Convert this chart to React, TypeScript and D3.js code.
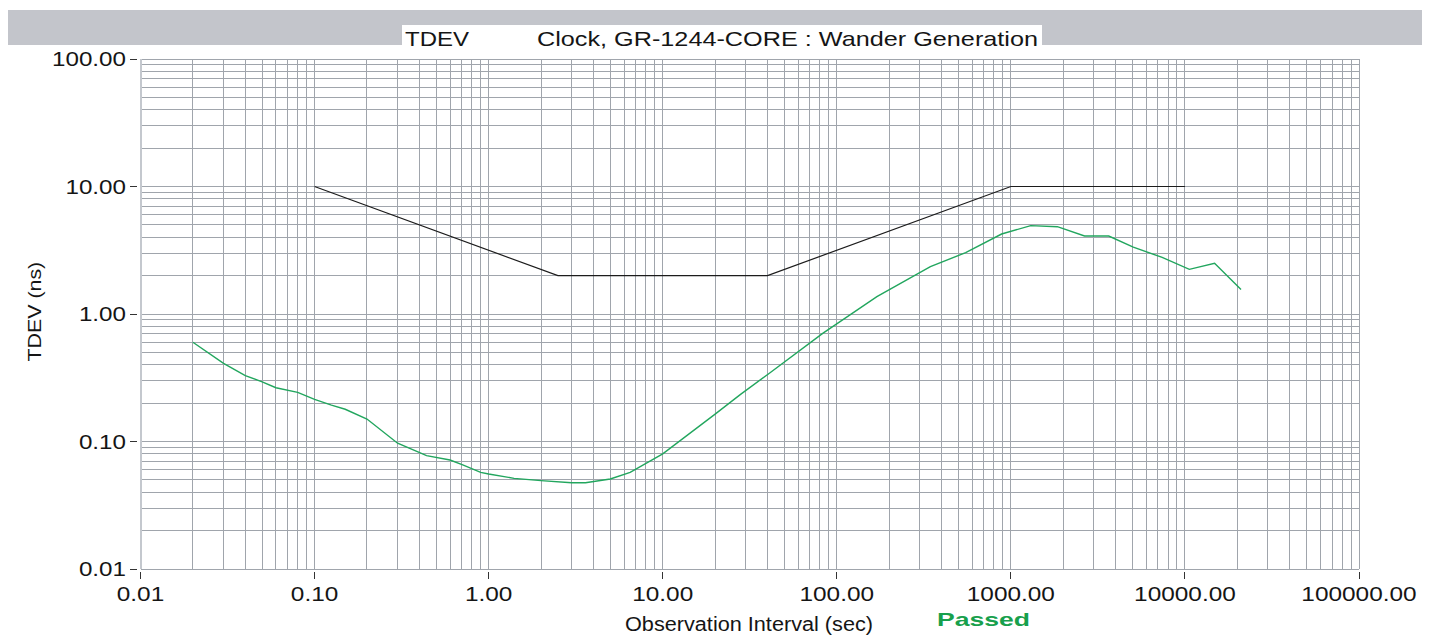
import React from "react";
import * as d3 from "d3";

// ---- data ----
const xTickValues = [0.01, 0.1, 1, 10, 100, 1000, 10000, 100000];
const xTickLabels = ["0.01", "0.10", "1.00", "10.00", "100.00", "1000.00", "10000.00", "100000.00"];
const yTickValues = [100, 10, 1, 0.1, 0.01];
const yTickLabels = ["100.00", "10.00", "1.00", "0.10", "0.01"];

const maskTau = [0.1, 2.5, 40, 1000, 10000];
const maskTdev = [10, 2, 2, 10, 10];

const measTau = [0.02, 0.03, 0.04, 0.05, 0.06, 0.08, 0.1, 0.125, 0.15, 0.2, 0.3, 0.44, 0.6, 0.71, 0.9, 1.0, 1.4, 2.0, 3.0, 3.6, 5.0, 6.5, 10, 20, 28, 41, 83, 170, 345, 550, 885, 1300, 1850, 2650, 3650, 5050, 7400, 10600, 14800, 21000];
const measTdev = [0.6, 0.41, 0.328, 0.294, 0.264, 0.243, 0.214, 0.193, 0.179, 0.15, 0.097, 0.0775, 0.0716, 0.0655, 0.0573, 0.0556, 0.0514, 0.0493, 0.0475, 0.0475, 0.0508, 0.0573, 0.08, 0.164, 0.234, 0.343, 0.705, 1.37, 2.35, 3.03, 4.24, 4.93, 4.84, 4.09, 4.09, 3.34, 2.78, 2.24, 2.5, 1.56];

const titleLeft = "TDEV";
const titleMain = "Clock, GR-1244-CORE : Wander Generation";
const xTitle = "Observation Interval (sec)";
const yTitle = "TDEV (ns)";
const statusText = "Passed";

const FONT = "'Liberation Sans', Arial, Helvetica, sans-serif";

export default function App() {
  const x = d3.scaleLog().domain([0.01, 100000]).range([140.5, 1359]);
  const y = d3.scaleLog().domain([0.01, 100]).range([569, 59]);
  const [x0, x1] = x.range();
  const [yb, yt] = y.range();

  // grid values
  const vGrid: number[] = [];
  for (let d = -2; d <= 4; d++) for (let k = 1; k <= 9; k++) vGrid.push(k * Math.pow(10, d));
  vGrid.push(100000);
  const hGrid: number[] = [];
  for (let d = -2; d <= 1; d++) for (let k = 1; k <= 9; k++) hGrid.push(k * Math.pow(10, d));
  hGrid.push(100);

  const line = d3
    .line<[number, number]>()
    .x((d) => x(d[0]))
    .y((d) => y(d[1]));

  const maskData: [number, number][] = maskTau.map((t, i) => [t, maskTdev[i]]);
  const measData: [number, number][] = measTau.map((t, i) => [t, measTdev[i]]);

  const gridColor = "#a0a5ac";
  const textColor = "#151515";

  return (
    <svg
      width={1436}
      height={635}
      style={{ position: "absolute", left: 0, top: 0, background: "#fff" }}
      fontFamily={FONT}
    >
      <rect x={0} y={0} width={1436} height={635} fill="#ffffff" />
      {/* title band */}
      <rect x={8} y={10} width={1414} height={35} fill="#c3c5cb" />
      <rect x={402} y={25} width={640} height={22} fill="#ffffff" />
      <text x={405} y={46} fontSize={21} fill={textColor} textLength={64} lengthAdjust="spacingAndGlyphs">
        {titleLeft}
      </text>
      <text x={537} y={46} fontSize={21} fill={textColor} textLength={501} lengthAdjust="spacingAndGlyphs">
        {titleMain}
      </text>

      {/* grid */}
      <g shapeRendering="crispEdges">
        {hGrid.map((v, i) => (
          <line key={"h" + i} x1={x0} x2={x1} y1={y(v)} y2={y(v)} stroke={gridColor} strokeWidth={1} />
        ))}
        {vGrid.slice(1).map((v, i) => (
          <line key={"v" + i} x1={x(v)} x2={x(v)} y1={yt} y2={yb} stroke={gridColor} strokeWidth={1} />
        ))}
        <line x1={x0} x2={x0} y1={yt} y2={yb} stroke="#c4c8ce" strokeWidth={2} />
        {/* y ticks */}
        {yTickValues.map((v, i) => (
          <line key={"yt" + i} x1={130} x2={137} y1={y(v)} y2={y(v)} stroke="#333" strokeWidth={1} />
        ))}
        {/* x ticks */}
        {xTickValues.map((v, i) => (
          <line key={"xt" + i} x1={x(v)} x2={x(v)} y1={572} y2={579} stroke="#333" strokeWidth={1} />
        ))}
      </g>

      {/* y tick labels */}
      {yTickValues.map((v, i) => (
        <text
          key={"yl" + i}
          transform={`translate(126,${y(v) + 7.4}) scale(1.21,1)`}
          textAnchor="end"
          fontSize={20}
          fill={textColor}
        >
          {yTickLabels[i]}
        </text>
      ))}
      {/* x tick labels */}
      {xTickValues.map((v, i) => (
        <text
          key={"xl" + i}
          transform={`translate(${x(v)},601) scale(1.22,1)`}
          textAnchor="middle"
          fontSize={20}
          fill={textColor}
        >
          {xTickLabels[i]}
        </text>
      ))}

      {/* axis titles */}
      <text x={625} y={631} fontSize={20} fill={textColor} textLength={248} lengthAdjust="spacingAndGlyphs">
        {xTitle}
      </text>
      <text
        transform="translate(41,311.7) rotate(-90) scale(1.21,1)"
        textAnchor="middle"
        fontSize={17.7}
        fill={textColor}
      >
        {yTitle}
      </text>
      <text
        x={937}
        y={626}
        fontSize={18.6}
        fontWeight="bold"
        fill="#17a04c"
        textLength={93}
        lengthAdjust="spacingAndGlyphs"
      >
        {statusText}
      </text>

      {/* mask */}
      <path d={line(maskData) || ""} fill="none" stroke="#1c1c1c" strokeWidth={1.2} />
      {/* measurement */}
      <path d={line(measData) || ""} fill="none" stroke="#22a65e" strokeWidth={1.4} />
    </svg>
  );
}
